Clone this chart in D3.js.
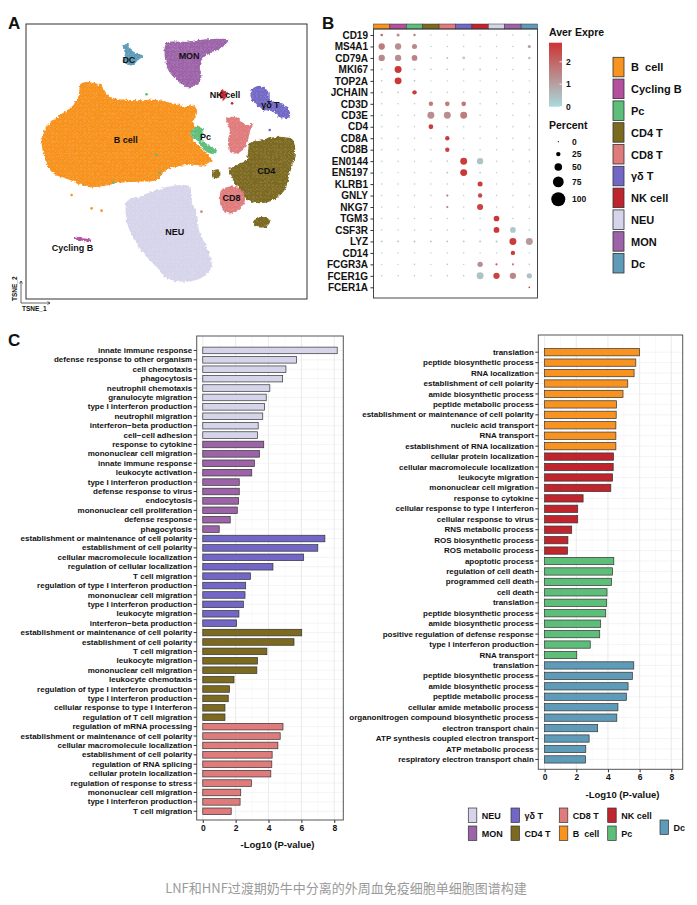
<!DOCTYPE html>
<html>
<head>
<meta charset="utf-8">
<script src="https://cdn.jsdelivr.net/npm/d3@7"></script>
<style>
body{margin:0;background:#fff;}
svg text{font-family:"Liberation Sans",Arial,sans-serif;font-weight:bold;fill:#111;}
</style>
</head>
<body>
<svg id="main" width="697" height="905"></svg>
<script>
// cell types, same order as dot plot columns
const cellTypes = ["B  cell", "Cycling B", "Pc", "CD4 T", "CD8 T", "γδ T", "NK cell", "NEU", "MON", "Dc"];
const cellColors = ["#f7931e", "#b5509f", "#5dbe79", "#7d6a21", "#e07b7c", "#7267c6", "#c0252d", "#d6d4ea", "#9c63a9", "#5e9bb8"];

// panel A - cluster outlines (tSNE units)
const tsneNEU = [[-12.0,-10.5],[-8.0,-9.0],[-3.0,-7.0],[4.0,-5.5],[7.0,-6.0],[7.5,-10.0],[9.0,-14.0],[10.0,-20.0],[12.5,-25.0],[13.5,-30.0],[11.0,-33.0],[6.0,-34.5],[0.0,-33.5],[-3.0,-30.0],[-6.0,-27.0],[-9.0,-23.0],[-11.5,-18.0],[-12.2,-14.0]];
const tsneBcell = [[-25.5,25.0],[-20.0,24.5],[-17.0,21.0],[-10.0,20.0],[-3.0,20.0],[2.0,19.0],[6.0,18.0],[8.0,18.5],[9.2,16.5],[8.0,13.0],[9.5,11.0],[8.0,8.0],[10.0,6.0],[13.5,2.0],[12.0,0.5],[6.0,0.5],[0.0,-1.0],[-3.0,-4.0],[-8.0,-4.5],[-14.0,-4.8],[-20.0,-6.0],[-24.0,-6.0],[-29.0,-4.0],[-34.0,-2.0],[-36.0,1.0],[-37.5,8.0],[-36.0,12.0],[-32.0,15.5],[-28.5,18.0],[-26.5,21.0]];
const tsneMON = [[0.0,37.0],[6.0,37.5],[12.0,38.2],[18.5,38.0],[17.0,36.0],[13.0,34.0],[11.0,32.5],[10.0,30.0],[10.5,27.0],[9.0,24.5],[6.5,23.8],[3.0,26.0],[0.5,29.0],[-0.5,33.0]];
const tsneDc = [[-13.2,36.5],[-11.5,36.8],[-10.5,35.0],[-9.0,34.0],[-7.0,33.2],[-8.5,32.0],[-10.0,30.5],[-11.5,30.5],[-12.8,31.5],[-12.5,34.0]];
const tsneCD4 = [[25.0,7.0],[29.0,8.2],[34.0,9.0],[38.0,8.0],[38.5,3.0],[37.0,-2.0],[35.5,-7.0],[32.0,-10.0],[28.0,-11.0],[24.5,-10.0],[22.0,-7.0],[20.0,-4.0],[19.0,-1.0],[21.0,0.5],[24.0,2.0],[24.5,4.5]];
const tsneCD4small = [[13.7,-1.5],[15.5,-0.8],[16.2,-2.5],[14.5,-3.5]];
const tsneCD4low = [[26.0,-16.5],[29.0,-15.0],[31.2,-16.0],[30.0,-18.0],[27.0,-18.0]];
const tsneCD8 = [[18.0,14.5],[21.0,14.8],[24.0,12.5],[26.0,12.8],[25.0,10.5],[24.5,8.0],[23.5,5.5],[21.0,4.0],[19.0,4.5],[18.5,8.0],[19.0,11.0]];
const tsneCD8low = [[16.5,-7.0],[20.0,-6.0],[23.0,-7.5],[23.5,-10.5],[21.5,-13.0],[18.5,-14.0],[16.5,-12.0],[16.0,-9.5]];
const tsneGD = [[26.0,23.5],[28.5,24.2],[30.5,22.5],[31.0,20.0],[34.0,19.0],[36.5,17.5],[37.0,15.0],[34.5,14.5],[32.0,16.5],[29.0,17.0],[26.5,19.0],[25.2,21.5]];
const tsneNK = [[16.8,23.2],[18.2,22.0],[17.2,20.0],[16.0,21.5]];
const tsnePc = [[7.5,10.8],[10.0,12.2],[11.2,10.0],[10.5,8.0],[12.5,6.5],[15.0,5.0],[14.5,3.8],[12.0,4.5],[9.0,8.0],[7.2,9.5]];
const tsneCycB = [[-27.8,-21.0],[-25.0,-21.5],[-22.6,-22.0],[-22.8,-22.6],[-25.2,-22.2],[-27.8,-21.6]];
// loose cells outside the clusters: [tsne1, tsne2, cell type index]
const tsneStray = [[-28.5,-8.5,0],[-22.5,-12.5,0],[-19.5,-13.2,0],[-16.0,-4.8,2],[-6.0,21.7,2],[-3.0,3.5,2],[-2.0,-1.8,2],[10.5,-13.5,4],[19.0,-0.5,4],[19.7,19.0,6],[31.0,11.0,5],[22.2,0.8,3]];
const tsneLabels = [["DC",-11.3,32.2],["MON",6.8,33.2],["NK cell",17.6,21.6],["γδ T",31.2,18.5],["B cell",-12.2,8.0],["Pc",11.7,9.0],["CD4",30.0,-1.2],["CD8",19.5,-9.2],["NEU",2.5,-19.5],["Cycling B",-28.2,-24.2]];

// panel B - marker genes
const genes = ["CD19","MS4A1","CD79A","MKI67","TOP2A","JCHAIN","CD3D","CD3E","CD4","CD8A","CD8B","EN0144","EN5197","KLRB1","GNLY","NKG7","TGM3","CSF3R","LYZ","CD14","FCGR3A","FCER1G","FCER1A"];
// percent of cells expressing (rows genes, cols cell types)
const pctExpressed = [
	[12,15,10,2,2,2,2,2,2,2],
	[40,40,30,2,2,2,2,2,2,15],
	[40,40,35,3,6,12,3,2,2,10],
	[3,45,5,3,3,3,4,2,2,2],
	[3,45,5,2,2,2,2,2,2,2],
	[4,4,25,2,2,2,3,2,2,2],
	[2,2,2,25,27,27,3,2,2,2],
	[2,2,3,45,45,45,3,2,2,3],
	[2,2,2,28,2,2,2,2,2,2],
	[2,2,2,2,25,2,2,2,2,2],
	[2,2,2,2,25,2,2,2,2,2],
	[2,2,2,2,3,45,40,2,2,2],
	[2,2,2,2,6,45,5,2,2,2],
	[2,2,2,2,2,2,30,2,2,2],
	[2,2,3,2,8,2,25,2,2,2],
	[2,2,2,2,8,2,38,2,2,2],
	[2,2,2,2,2,2,2,35,2,2],
	[2,2,2,2,2,2,3,36,35,2],
	[5,5,6,5,5,5,5,6,45,45],
	[2,2,2,2,2,2,2,2,25,2],
	[2,2,3,2,3,2,33,8,8,3],
	[3,3,3,3,3,3,45,40,40,32],
	[0,0,0,0,0,0,0,0,0,4]
];
// average scaled expression
const avgExpression = [
	[1.8,1.3,1.5,0.2,0.2,0.2,0.2,0.2,0.2,0.2],
	[1.6,1.3,1.4,0.2,0.2,0.2,0.2,0.2,0.2,1.0],
	[1.4,1.3,1.5,0.2,0.3,0.2,0.2,0.2,0.2,0.4],
	[0.2,2.8,0.3,0.2,0.2,0.2,0.3,0.2,0.2,0.2],
	[0.2,2.8,0.3,0.2,0.2,0.2,0.2,0.2,0.2,0.2],
	[0.2,0.2,2.7,0.2,0.2,0.2,0.2,0.2,0.2,0.2],
	[0.2,0.2,0.2,1.6,1.6,1.7,0.2,0.2,0.2,0.2],
	[0.2,0.2,0.2,1.3,1.3,1.6,0.2,0.2,0.2,0.2],
	[0.2,0.2,0.2,2.7,0.2,0.2,0.2,0.2,0.2,0.2],
	[0.2,0.2,0.2,0.2,2.7,0.2,0.2,0.2,0.2,0.2],
	[0.2,0.2,0.2,0.2,2.6,0.2,0.2,0.2,0.2,0.2],
	[0.2,0.2,0.2,0.2,0.2,2.7,0.4,0.2,0.2,0.2],
	[0.2,0.2,0.2,0.2,0.3,2.8,0.2,0.2,0.2,0.2],
	[0.2,0.2,0.2,0.2,0.2,0.2,2.7,0.2,0.2,0.2],
	[0.2,0.2,0.2,0.2,1.6,0.2,2.5,0.2,0.2,0.2],
	[0.2,0.2,0.2,0.2,1.5,0.2,2.6,0.2,0.2,0.2],
	[0.2,0.2,0.2,0.2,0.2,0.2,0.2,2.8,0.2,0.2],
	[0.2,0.2,0.2,0.2,0.2,0.2,0.2,2.8,0.3,0.2],
	[0.3,0.3,0.3,0.3,0.3,0.3,0.3,0.3,2.7,1.1],
	[0.2,0.2,0.2,0.2,0.2,0.2,0.2,0.2,2.7,0.2],
	[0.2,0.2,0.3,0.2,0.3,0.2,1.3,2.2,1.7,0.3],
	[0.3,0.3,0.3,0.3,0.3,0.3,0.4,2.6,1.4,0.4],
	[0,0,0,0,0,0,0,0,0,2.6]
];
const exprTicks = [0, 1, 2];
const pctTicks = [0, 25, 50, 75, 100];

// panel C left - GO terms (NEU, MON, γδ T, CD4 T, CD8 T)
const leftTerms = ["innate immune response","defense response to other organism","cell chemotaxis","phagocytosis","neutrophil chemotaxis","granulocyte migration","type I interferon production","neutrophil migration","interferon\u2212beta production","cell\u2212cell adhesion",
	"response to cytokine","mononuclear cell migration","innate immune response","leukocyte activation","type I interferon production","defense response to virus","endocytosis","mononuclear cell proliferation","defense response","phagocytosis",
	"establishment or maintenance of cell polarity","establishment of cell polarity","cellular macromolecule localization","regulation of cellular localization","T cell migration","regulation of type I interferon production","mononuclear cell migration","type I interferon production","leukocyte migration","interferon\u2212beta production",
	"establishment or maintenance of cell polarity","establishment of cell polarity","T cell migration","leukocyte migration","mononuclear cell migration","leukocyte chemotaxis","regulation of type I interferon production","type I interferon production","cellular response to type I interferon","regulation of T cell migration",
	"regulation of mRNA processing","establishment or maintenance of cell polarity","cellular macromolecule localization","establishment of cell polarity","regulation of RNA splicing","cellular protein localization","regulation of response to stress","mononuclear cell migration","type I interferon production","T cell migration"];
const leftValues = [8.18,5.71,5.06,4.86,4.08,3.86,3.76,3.65,3.37,3.33,
	3.71,3.45,3.14,2.98,2.22,2.22,2.18,2.10,1.67,1.00,
	7.43,7.00,6.14,4.27,2.90,2.61,2.57,2.47,2.20,2.06,
	6.02,5.55,3.90,3.33,3.29,1.90,1.63,1.55,1.35,1.35,
	4.88,4.71,4.57,4.22,4.20,4.14,2.96,2.31,2.27,1.73];
const leftGroups = [7,7,7,7,7,7,7,7,7,7, 8,8,8,8,8,8,8,8,8,8, 5,5,5,5,5,5,5,5,5,5, 3,3,3,3,3,3,3,3,3,3, 4,4,4,4,4,4,4,4,4,4];

// panel C right - GO terms (B cell, NK cell, Pc, Dc)
const rightTerms = ["translation","peptide biosynthetic process","RNA localization","establishment of cell polarity","amide biosynthetic process","peptide metabolic process","establishment or maintenance of cell polarity","nucleic acid transport","RNA transport","establishment of RNA localization",
	"cellular protein localization","cellular macromolecule localization","leukocyte migration","mononuclear cell migration","response to cytokine","cellular response to type I interferon","cellular response to virus","RNS metabolic process","ROS biosynthetic process","ROS metabolic process",
	"apoptotic process","regulation of cell death","programmed cell death","cell death","translation","peptide biosynthetic process","amide biosynthetic process","positive regulation of defense response","type I interferon production","RNA transport",
	"translation","peptide biosynthetic process","amide biosynthetic process","peptide metabolic process","cellular amide metabolic process","organonitrogen compound biosynthetic process","electron transport chain","ATP synthesis coupled electron transport","ATP metabolic process","respiratory electron transport chain"];
const rightValues = [5.99,5.76,5.65,5.25,4.95,4.54,4.52,4.50,4.50,4.50,
	4.35,4.33,4.29,4.18,2.43,2.09,2.09,1.71,1.47,1.45,
	4.37,4.29,4.22,3.94,3.92,3.86,3.54,3.48,2.88,2.03,
	5.63,5.54,5.27,5.16,4.63,4.56,3.35,2.81,2.60,2.58];
const rightGroups = [0,0,0,0,0,0,0,0,0,0, 6,6,6,6,6,6,6,6,6,6, 2,2,2,2,2,2,2,2,2,2, 9,9,9,9,9,9,9,9,9,9];
const pTicks = [0, 2, 4, 6, 8];

// legend under panel C, column by column
const goLegendCols = [[7, 8], [5, 3], [4, 0], [6, 2], [9]];

const svg = d3.select("#main");
svg.append("rect").attr("width", 697).attr("height", 905).attr("fill", "#fff");
const defs = svg.append("defs");

function panelLetter(txt, x, y) {
	svg.append("text").attr("x", x).attr("y", y).style("font-size", "17px").text(txt);
}

/**
* @desc panel A, tSNE map drawn as cluster shapes
*/
const drawTsne = () => {
	var xT = d3.scaleLinear().domain([-42.2, 42.2]).range([26, 307]);
	var yT = d3.scaleLinear().domain([-39.7, 42.8]).range([299, 24]);

	// speckle texture + ragged edges
	var pat = defs.append("pattern").attr("id", "speck").attr("width", 4).attr("height", 4)
		.attr("patternUnits", "userSpaceOnUse");
	pat.append("circle").attr("cx", 1).attr("cy", 1).attr("r", 0.45).attr("fill", "#fff").attr("opacity", 0.75);
	pat.append("circle").attr("cx", 3).attr("cy", 2.6).attr("r", 0.35).attr("fill", "#fff").attr("opacity", 0.5);
	var filt = defs.append("filter").attr("id", "rough").attr("x", "-20%").attr("y", "-20%").attr("width", "140%").attr("height", "140%");
	filt.append("feTurbulence").attr("type", "fractalNoise").attr("baseFrequency", 0.35).attr("numOctaves", 2).attr("seed", 4).attr("result", "n");
	filt.append("feDisplacementMap").attr("in", "SourceGraphic").attr("in2", "n").attr("scale", 4)
		.attr("xChannelSelector", "R").attr("yChannelSelector", "G");

	var clusters = [
		{cell: 7, pts: tsneNEU}, {cell: 0, pts: tsneBcell}, {cell: 8, pts: tsneMON}, {cell: 9, pts: tsneDc},
		{cell: 3, pts: tsneCD4}, {cell: 3, pts: tsneCD4small}, {cell: 3, pts: tsneCD4low},
		{cell: 4, pts: tsneCD8}, {cell: 4, pts: tsneCD8low}, {cell: 5, pts: tsneGD},
		{cell: 6, pts: tsneNK}, {cell: 2, pts: tsnePc}, {cell: 1, pts: tsneCycB}
	];
	var outline = d3.line().x(d => xT(d[0])).y(d => yT(d[1])).curve(d3.curveCatmullRomClosed.alpha(0.5));

	var g = svg.append("g").attr("filter", "url(#rough)");
	g.selectAll("path.cl").data(clusters).enter().append("path")
		.attr("d", d => outline(d.pts))
		.attr("fill", d => cellColors[d.cell]);
	g.selectAll("path.tx").data(clusters).enter().append("path")
		.attr("d", d => outline(d.pts))
		.attr("fill", "url(#speck)");

	svg.selectAll("circle.stray").data(tsneStray).enter().append("circle")
		.attr("cx", d => xT(d[0])).attr("cy", d => yT(d[1])).attr("r", 1.3)
		.attr("fill", d => cellColors[d[2]]);

	svg.append("rect").attr("x", 26).attr("y", 24).attr("width", 281).attr("height", 275)
		.attr("fill", "none").attr("stroke", "#333").attr("stroke-width", 1);

	svg.selectAll("text.cl").data(tsneLabels).enter().append("text")
		.attr("x", d => xT(d[1])).attr("y", d => yT(d[2]) + 3.2)
		.attr("text-anchor", "middle").style("font-size", "9px").text(d => d[0]);

	// small axis arrows
	var ax = svg.append("g").attr("stroke", "#222").attr("stroke-width", 0.7).attr("fill", "none");
	ax.append("path").attr("d", "M21,303V281M19.5,283.5L21,281L22.5,283.5");
	ax.append("path").attr("d", "M21,303H50M47.5,301.5L50,303L47.5,304.5");
	svg.append("text").attr("transform", "translate(17,301)rotate(-90)").style("font-size", "6.5px").text("TSNE_2");
	svg.append("text").attr("x", 22).attr("y", 311).style("font-size", "6.5px").text("TSNE_1");
	panelLetter("A", 8, 29);
};

/**
* @desc panel B, marker gene dot plot
*/
const drawDots = () => {
	var x = d3.scaleBand().domain(d3.range(cellTypes.length)).range([373.5, 537.5]);
	var y = d3.scalePoint().domain(genes).range([35, 287.3]);
	var r = d3.scaleLinear().domain([0, 100]).range([0.6, 7]);
	var col = d3.scaleLinear().domain([0, 2.85]).range(["#a9dadd", "#cc3434"]).interpolate(d3.interpolateRgb);

	svg.selectAll("rect.hdr").data(cellTypes).enter().append("rect")
		.attr("x", (d, i) => x(i)).attr("y", 24).attr("width", x.bandwidth()).attr("height", 5)
		.attr("fill", (d, i) => cellColors[i]).attr("stroke", "#333").attr("stroke-width", 0.5);

	var cells = [];
	genes.forEach((gname, gi) => cellTypes.forEach((c, ci) => {
		cells.push({gene: gname, col: ci, pct: pctExpressed[gi][ci], expr: avgExpression[gi][ci]});
	}));
	svg.selectAll("circle.dot").data(cells.filter(d => d.pct > 0)).enter().append("circle")
		.attr("cx", d => x(d.col) + x.bandwidth() / 2).attr("cy", d => y(d.gene))
		.attr("r", d => r(d.pct)).attr("fill", d => col(d.expr));

	svg.append("rect").attr("x", 373.5).attr("y", 29).attr("width", 164).attr("height", 269)
		.attr("fill", "none").attr("stroke", "#333").attr("stroke-width", 0.9);

	var ya = svg.append("g").attr("transform", "translate(373.5,0)")
		.call(d3.axisLeft(y).tickSize(3).tickPadding(2.5));
	ya.select(".domain").remove();
	ya.selectAll("line").attr("stroke", "#333");
	ya.selectAll("text").style("font-size", "10px").style("font-family", "'Liberation Sans',Arial,sans-serif");

	// colour bar
	var grad = defs.append("linearGradient").attr("id", "exprGrad").attr("x1", 0).attr("y1", 1).attr("x2", 0).attr("y2", 0);
	[0, 0.5, 1].forEach(t => grad.append("stop").attr("offset", t * 100 + "%").attr("stop-color", col(t * 2.85)));
	var ey = d3.scaleLinear().domain([0, 2.85]).range([106.7, 42.7]);
	svg.append("text").attr("x", 549).attr("y", 36).style("font-size", "10.5px").text("Aver Expre");
	svg.append("rect").attr("x", 549).attr("y", 42.7).attr("width", 13).attr("height", 64).attr("fill", "url(#exprGrad)");
	exprTicks.forEach(v => {
		svg.append("line").attr("x1", 559.5).attr("x2", 562).attr("y1", ey(v)).attr("y2", ey(v)).attr("stroke", "#fff").attr("stroke-width", 0.8);
		svg.append("text").attr("x", 566).attr("y", ey(v) + 3).style("font-size", "8.5px").text(v);
	});

	// dot size legend
	svg.append("text").attr("x", 549).attr("y", 129).style("font-size", "10.5px").text("Percent");
	var py = d3.scalePoint().domain(pctTicks).range([141.7, 199.3]);
	svg.selectAll("circle.pl").data(pctTicks).enter().append("circle")
		.attr("cx", 558.3).attr("cy", d => d === 100 ? 199.3 : py(d) - (d === 75 ? 3 : d === 50 ? 3.5 : d === 25 ? 2 : 0))
		.attr("r", d => r(d)).attr("fill", "#000");
	svg.selectAll("text.pl").data(pctTicks).enter().append("text")
		.attr("x", 572).attr("y", d => (d === 100 ? 199.3 : py(d) - (d === 75 ? 3 : d === 50 ? 3.5 : d === 25 ? 2 : 0)) + 3)
		.style("font-size", "8.5px").text(d => d);

	// cell type legend
	var ly = d3.scaleBand().domain(d3.range(cellTypes.length)).range([56.3, 274.3]);
	svg.selectAll("rect.leg").data(cellTypes).enter().append("rect")
		.attr("x", 613).attr("y", (d, i) => ly(i) + 1).attr("width", 11).attr("height", 19.5)
		.attr("fill", (d, i) => cellColors[i]).attr("stroke", "#333").attr("stroke-width", 0.8);
	svg.selectAll("text.leg").data(cellTypes).enter().append("text")
		.attr("x", 631).attr("y", (d, i) => ly(i) + 15).style("font-size", "11px")
		.style("white-space", "pre").attr("xml:space", "preserve").text(d => d);
	panelLetter("B", 322, 29);
};

/**
* @desc one GO bar chart of panel C
*/
const drawGoBars = (terms, values, groups, box, yRange, xDomain, titleX, titleY) => {
	var x = d3.scaleLinear().domain(xDomain).range([box.x0, box.x1]);
	var y = d3.scaleBand().domain(d3.range(terms.length)).range(yRange).padding(0.3);
	var g = svg.append("g");

	// grid
	d3.range(0, 9).forEach(v => {
		g.append("line").attr("x1", x(v)).attr("x2", x(v)).attr("y1", box.y0).attr("y2", box.y1)
			.attr("stroke", v % 2 ? "#f3f3f3" : "#e4e4e4").attr("stroke-width", v % 2 ? 0.5 : 0.8);
	});
	g.selectAll("line.hg").data(terms).enter().append("line")
		.attr("x1", box.x0).attr("x2", box.x1)
		.attr("y1", (d, i) => y(i) + y.bandwidth() / 2).attr("y2", (d, i) => y(i) + y.bandwidth() / 2)
		.attr("stroke", "#ececec").attr("stroke-width", 0.6);

	g.selectAll("rect.bar").data(values).enter().append("rect")
		.attr("x", x(0)).attr("y", (d, i) => y(i))
		.attr("width", d => x(d) - x(0)).attr("height", y.bandwidth())
		.attr("fill", (d, i) => cellColors[groups[i]]).attr("stroke", "#333").attr("stroke-width", 0.7);

	g.append("rect").attr("x", box.x0).attr("y", box.y0).attr("width", box.x1 - box.x0).attr("height", box.y1 - box.y0)
		.attr("fill", "none").attr("stroke", "#555").attr("stroke-width", 1);

	var ya = g.append("g").attr("transform", "translate(" + box.x0 + ",0)")
		.call(d3.axisLeft(y).tickSize(3).tickPadding(1.5).tickFormat(i => terms[i]));
	ya.select(".domain").remove();
	ya.selectAll("line").attr("stroke", "#333");
	ya.selectAll("text").style("font-size", "8px").style("font-family", "'Liberation Sans',Arial,sans-serif");

	var xa = g.append("g").attr("transform", "translate(0," + box.y1 + ")")
		.call(d3.axisBottom(x).tickValues(pTicks).tickSize(3).tickPadding(2));
	xa.select(".domain").remove();
	xa.selectAll("line").attr("stroke", "#333");
	xa.selectAll("text").style("font-size", "8.5px").style("font-family", "'Liberation Sans',Arial,sans-serif");

	g.append("text").attr("x", titleX).attr("y", titleY).attr("text-anchor", "middle")
		.style("font-size", "9.5px").text("-Log10 (P-value)");
};

const drawGoLegend = () => {
	var colX = [468.3, 511, 559.3, 607.7, 660];
	goLegendCols.forEach((col, ci) => {
		col.forEach((cell, ri) => {
			var top = col.length === 1 ? 820 : 808 + ri * 18;
			svg.append("rect").attr("x", colX[ci]).attr("y", top).attr("width", 8.5).attr("height", 14.5)
				.attr("fill", cellColors[cell]).attr("stroke", "#333").attr("stroke-width", 0.7);
			svg.append("text").attr("x", colX[ci] + 13.5).attr("y", top + 10.5).style("font-size", "9px")
				.attr("xml:space", "preserve").text(cellTypes[cell]);
		});
	});
};

drawTsne();
drawDots();
drawGoBars(leftTerms, leftValues, leftGroups, {x0: 196.7, x1: 343.3, y0: 336, y1: 820}, [344.3, 817.4], [-0.37, 8.55], 277.5, 848);
drawGoBars(rightTerms, rightValues, rightGroups, {x0: 538.3, x1: 682.7, y0: 335, y1: 769.3}, [345.4, 766.2], [-0.4, 8.72], 622.5, 798);
drawGoLegend();
panelLetter("C", 8, 346);

svg.append("text").attr("x", 346).attr("y", 893).attr("text-anchor", "middle")
	.style("font-family", "'Noto Sans CJK SC',sans-serif").style("font-weight", "normal")
	.style("font-size", "13px").style("fill", "#9a9a9a")
	.text("LNF和HNF过渡期奶牛中分离的外周血免疫细胞单细胞图谱构建");
</script>
</body>
</html>
